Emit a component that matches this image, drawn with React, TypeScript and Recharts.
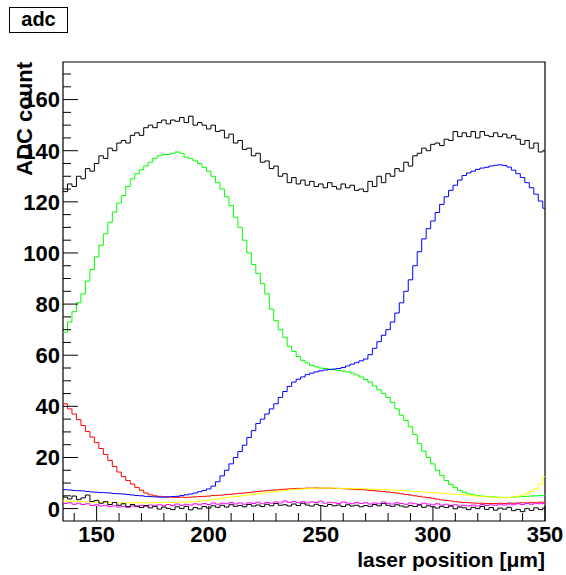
import { LineChart, Line, XAxis, YAxis, ReferenceArea } from "recharts";

// 2 um bins starting at 135 um (low edges)
const binStart = 135;
const binWidth = 2;

const blackTop = [
  124, 127, 126, 130, 129, 133, 132, 135, 138, 137,
  141, 140, 143, 144, 143, 146, 147, 146, 149, 150,
  149, 151, 152, 150.5, 152, 151.5, 153, 151, 153.5, 150,
  151, 150, 148.5, 150, 147.5, 148, 145, 146.5, 143, 144,
  140.5, 141, 138, 139, 135.5, 136, 133, 134, 130, 131,
  127.5, 129.5, 127, 128.5, 126.5, 128, 126, 127, 125.5, 127.5,
  126, 125, 127, 125.5, 126.5, 124.5, 125, 124, 128, 126,
  130, 127.5, 131, 130, 133, 132, 135.5, 134, 138, 139,
  141, 140, 142.5, 143, 142, 144.5, 144, 147.5, 145.5, 147,
  145.5, 147.5, 145, 147.5, 146, 145.5, 147, 145.5, 146.5, 145,
  146, 144.5, 142.5, 144, 141, 143, 139.5, 140,
];

const green = [
  69, 73, 77, 80.5, 84, 89, 93.5, 98.5, 103, 107.5,
  112, 116, 119.5, 122.5, 126, 129, 131, 132.5, 134, 135.5,
  137, 138, 138.5, 138.5, 139, 139.5, 139, 137.5, 137, 136,
  135, 133.5, 132, 130, 127.5, 125, 122, 118.5, 114, 110,
  105, 100, 95.5, 92, 88, 84, 78, 73.5, 70, 67,
  63.5, 61.5, 59.5, 58, 57, 56, 55.5, 55, 54.8, 54.5,
  54.3, 54, 53.8, 53.5, 53, 52.3, 51.5, 50.5, 49.5, 48,
  46.5, 45, 43.5, 41.5, 39, 36.5, 34.5, 32, 29, 25.5,
  22.5, 20, 17.5, 15, 13, 11, 9.5, 8.2, 7.1, 6.4,
  5.8, 5.4, 5.1, 4.9, 4.7, 4.6, 4.5, 4.4, 4.3, 4.4,
  4.5, 4.6, 4.7, 4.8, 4.9, 5, 5.1, 5.2,
];

const blue = [
  7.4, 7.3, 7.1, 7, 6.9, 6.7, 6.5, 6.4, 6.3, 6.2,
  6.1, 5.9, 5.8, 5.7, 5.5, 5.3, 5.1, 5, 4.8, 4.7,
  4.6, 4.5, 4.5, 4.6, 4.7, 4.8, 5.1, 5.4, 5.7, 6.1,
  6.6, 7.1, 7.7, 8.8, 10.5, 12.8, 15, 17.5, 20, 22.3,
  24.8, 27.8, 30.5, 33.3, 35, 37, 39, 41, 43.5, 45.8,
  47.8, 49.5, 50.6, 51.5, 52.4, 53, 53.5, 53.9, 54.2, 54.4,
  54.6, 54.8, 55.2, 55.8, 56.5, 57.1, 57.8, 58.5, 60.2, 62.7,
  65.3, 67.8, 70, 73, 76.5, 80.5, 85, 89.5, 95, 100.5,
  105.5, 109.5, 112.5, 115.8, 119, 122, 124.5, 126.5, 128.5, 130.3,
  131.3, 132, 132.7, 133.2, 133.5, 134, 134.3, 134.5, 134.2, 133.6,
  132.4, 131, 129.5, 127.5, 125.5, 123, 120.3, 117.5,
];

const red = [
  41, 39, 37, 34.8, 32.5, 30.2, 28, 25.8, 23.5, 21.2,
  18.8, 16.5, 14.3, 12.5, 11, 9.6, 8.3, 7.2, 6.1, 5.4,
  5, 4.8, 4.6, 4.5, 4.5, 4.4, 4.5, 4.4, 4.5, 4.6,
  4.7, 4.8, 4.9, 5.1, 5.2, 5.3, 5.5, 5.6, 5.8, 6,
  6.1, 6.3, 6.5, 6.7, 6.9, 7, 7.2, 7.3, 7.5, 7.6,
  7.7, 7.8, 7.9, 7.9, 8, 8, 8.1, 8, 8, 8,
  7.9, 7.9, 7.8, 7.7, 7.6, 7.5, 7.4, 7.3, 7.1, 7,
  6.8, 6.7, 6.5, 6.3, 6.1, 5.8, 5.5, 5.3, 5, 4.8,
  4.5, 4.3, 4, 3.7, 3.4, 3.2, 3, 2.7, 2.5, 2.4,
  2.3, 2.2, 2.1, 2.1, 2, 2, 2, 2.1, 2, 2.2,
  2.1, 2.2, 2.3, 2.2, 2.4, 2.3, 2.5, 2.5,
];

const yellow = [
  3, 2.9, 2.9, 2.8, 2.7, 2.7, 2.6, 2.5, 2.5, 2.4,
  2.4, 2.3, 2.3, 2.3, 2.3, 2.2, 2.3, 2.2, 2.3, 2.3,
  2.3, 2.3, 2.4, 2.4, 2.4, 2.5, 2.5, 2.6, 2.6, 2.7,
  2.9, 3.1, 3.3, 3.6, 3.8, 4.1, 4.3, 4.5, 4.7, 4.9,
  5.1, 5.4, 5.6, 5.8, 6, 6.2, 6.5, 6.7, 6.9, 7.1,
  7.3, 7.5, 7.6, 7.7, 7.8, 7.9, 8, 8, 8, 8,
  8, 7.9, 7.9, 7.9, 7.8, 7.8, 7.8, 7.7, 7.6, 7.6,
  7.5, 7.4, 7.4, 7.3, 7.2, 7.1, 7, 6.9, 6.7, 6.6,
  6.5, 6.4, 6.2, 6.1, 6, 5.8, 5.7, 5.6, 5.5, 5.3,
  5.2, 5, 4.9, 4.7, 4.6, 4.5, 4.4, 4.3, 4.3, 4.3,
  4.5, 4.8, 5.2, 5.9, 6.7, 7.8, 9.5, 12.5,
];

const magenta = [
  2.0, 2.3, 1.7, 2.1, 1.6, 1.9, 1.2, 1.5, 1.0, 1.3,
  0.8, 1.1, 0.6, 0.9, 0.5, 1.0, 0.7, 1.3, 0.9, 1.4,
  1.0, 1.5, 1.1, 1.6, 1.2, 1.8, 1.3, 1.7, 1.4, 1.9,
  1.5, 2.0, 1.6, 2.2, 1.7, 2.1, 1.9, 2.4, 1.8, 2.2,
  1.7, 2.3, 2.0, 2.5, 1.9, 2.4, 2.1, 2.6, 2.2, 3.0,
  2.4, 2.8, 2.3, 2.7, 2.2, 2.6, 2.4, 2.9, 2.1, 2.5,
  2.3, 2.0, 2.6, 2.2, 1.9, 2.4, 2.0, 2.3, 1.8, 2.2,
  1.9, 2.6, 2.1, 1.8, 2.3, 2.0, 1.7, 2.2, 1.9, 1.6,
  2.1, 1.8, 1.5, 1.9, 1.4, 1.7, 1.2, 1.5, 1.0, 1.3,
  1.1, 1.4, 1.0, 1.6, 1.2, 1.5, 1.3, 1.7, 1.4, 1.8,
  1.5, 1.9, 1.6, 2.0, 1.7, 2.1, 1.9, 2.0,
];

const blackLow = [
  4.5, 3.8, 4.9, 3.5, 4.2, 5.3, 2.8, 3.2, 2.1, 2.7,
  1.6, 2.4, 1.3, 1.9, 0.8, 1.6, 1.0, 0.4, 1.2, 0.3,
  0.9, -0.2, 0.6, 0.1, -0.4, 0.7, 0.0, 0.9, -0.5, 0.4,
  -0.1, 0.8, 0.2, 1.1, 0.5, 1.3, 0.6, 1.5, 0.9, 1.2,
  0.7, 1.6, 1.0, 1.4, 0.8, 1.7, 1.1, 2.0, 1.3, 1.5,
  1.0, 1.8, 1.2, 2.1, 1.4, 1.0, 1.7, 1.2, 0.9, 1.6,
  1.1, 1.4, 0.8, 1.5, 1.0, 1.3, 0.7, 1.2, 0.9, 1.6,
  1.1, 2.0, 1.3, 0.9, 1.5, 1.0, 0.6, 1.2, 0.8, 1.4,
  0.5, 1.1, 0.7, 0.2, 0.9, 0.4, 1.0, -0.1, 0.6, 0.3,
  -0.4, 0.5, 0.0, 0.8, -0.3, 0.4, -0.6, 0.2, -0.2, 0.5,
  -0.8, -0.3, -1.2, 0.0, -0.7, 0.3, -0.4, 0.2,
];

const xTicks = [140, 150, 160, 170, 180, 190, 200, 210, 220, 230, 240, 250, 260, 270, 280, 290, 300, 310, 320, 330, 340, 350];
const yTicks = [0, 5, 10, 15, 20, 25, 30, 35, 40, 45, 50, 55, 60, 65, 70, 75, 80, 85, 90, 95, 100, 105, 110, 115, 120, 125, 130, 135, 140, 145, 150, 155, 160, 165, 170];

const series = [
  { key: "blackTop", color: "#000000", values: blackTop },
  { key: "red", color: "#ff0000", values: red },
  { key: "green", color: "#00ff00", values: green },
  { key: "blue", color: "#0000ff", values: blue },
  { key: "yellow", color: "#ffff00", values: yellow },
  { key: "magenta", color: "#ff00ff", values: magenta },
  { key: "blackLow", color: "#000000", values: blackLow },
];

const X_MIN = 135;
const X_MAX = 350;
const Y_MIN = -4.85;
const Y_MAX = 174.7;

const FONT = '"Liberation Sans", Arial, Helvetica, sans-serif';

const rows: Record<string, number>[] = blackTop.map((_, i) => {
  const r: Record<string, number> = { x: binStart + i * binWidth };
  series.forEach((s) => (r[s.key] = s.values[i]));
  return r;
});
// closing edge so the last step reaches the frame
const last: Record<string, number> = { x: X_MAX };
series.forEach((s) => (last[s.key] = s.values[s.values.length - 1]));
rows.push(last);

function XTick(props: any) {
  const { x, y, payload } = props;
  const major = payload.value % 50 === 0;
  return (
    <g>
      <line x1={x} x2={x} y1={y} y2={y - (major ? 15 : 8)} stroke="#000" />
      {major && (
        <text x={x} y={y + 21} textAnchor="middle" fontFamily={FONT} fontWeight="bold" fontSize={22} fill="#000">
          {payload.value}
        </text>
      )}
    </g>
  );
}

function YTick(props: any) {
  const { x, y, payload } = props;
  const major = payload.value % 20 === 0;
  return (
    <g>
      <line x1={x} x2={x + (major ? 15 : 8)} y1={y} y2={y} stroke="#000" />
      {major && (
        <text x={x - 3} y={y} dy="0.36em" textAnchor="end" fontFamily={FONT} fontWeight="bold" fontSize={22} fill="#000">
          {payload.value}
        </text>
      )}
    </g>
  );
}

export default function App() {
  return (
    <div style={{ position: "absolute", left: 0, top: 0, width: 566, height: 575, background: "#fff" }}>
      <LineChart width={566} height={575} data={rows} margin={{ top: 62, right: 21, bottom: 0, left: 0 }}>
        <XAxis
          dataKey="x"
          type="number"
          domain={[X_MIN, X_MAX]}
          ticks={xTicks}
          interval={0}
          allowDataOverflow
          axisLine={false}
          tickLine={false}
          tickSize={0}
          tickMargin={0}
          height={54}
          tick={<XTick />}
        />
        <YAxis
          type="number"
          domain={[Y_MIN, Y_MAX]}
          ticks={yTicks}
          interval={0}
          allowDataOverflow
          axisLine={false}
          tickLine={false}
          tickSize={0}
          tickMargin={0}
          width={63}
          tick={<YTick />}
        />
        {series.map((s) => (
          <Line
            key={s.key}
            dataKey={s.key}
            type="stepAfter"
            stroke={s.color}
            strokeWidth={1}
            dot={false}
            activeDot={false}
            isAnimationActive={false}
          />
        ))}
        <ReferenceArea x1={X_MIN} x2={X_MAX} y1={Y_MIN} y2={Y_MAX} fill="none" stroke="#000" strokeWidth={1.2} ifOverflow="visible" />
      </LineChart>
      <svg width={566} height={575} style={{ position: "absolute", left: 0, top: 0, pointerEvents: "none" }}>
        <rect x={9.5} y={7.5} width={58} height={25} fill="#fff" stroke="#000" />
        <text x={38.5} y={26} textAnchor="middle" fontFamily={FONT} fontWeight="bold" fontSize={20} fill="#000">
          adc
        </text>
        <text
          transform="translate(32, 62) rotate(-90)"
          textAnchor="end"
          fontFamily={FONT}
          fontWeight="bold"
          fontSize={22}
          fill="#000"
        >
          ADC count
        </text>
        <text x={545} y={567} textAnchor="end" fontFamily={FONT} fontWeight="bold" fontSize={21} fill="#000">
          laser position [μm]
        </text>
      </svg>
    </div>
  );
}
